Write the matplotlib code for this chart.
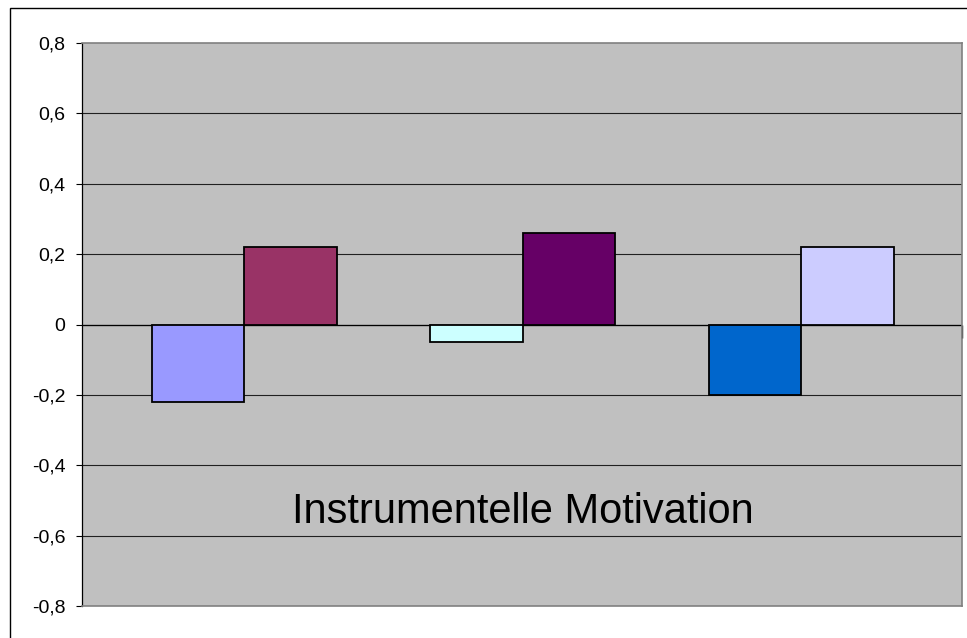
import numpy as np
import matplotlib.pyplot as plt
from matplotlib.patches import Rectangle

# ==========================
# Data
# ==========================
groups = ["A", "B", "C"]
series_neg = [-0.22, -0.05, -0.20]
series_pos = [0.22, 0.26, 0.22]
colors_neg = ["#9999FF", "#CCFFFF", "#0066CC"]
colors_pos = ["#993366", "#660066", "#CCCCFF"]
yticks = [-0.8, -0.6, -0.4, -0.2, 0, 0.2, 0.4, 0.6, 0.8]
ytick_labels = ["-0,8", "-0,6", "-0,4", "-0,2", "0", "0,2", "0,4", "0,6", "0,8"]
label = "Instrumentelle Motivation"

plt.rcParams["font.family"] = ["Liberation Sans", "DejaVu Sans"]

# ==========================
# Figure
# ==========================
fig = plt.figure(figsize=(9.67, 6.38), dpi=100)
fig.patch.set_facecolor("white")

# outer chart frame
fig.add_artist(Rectangle((10 / 967, -0.1), 1.2, 1 - 8.5 / 638 + 0.1,
                         transform=fig.transFigure, fill=False,
                         edgecolor="black", linewidth=1.0))

ax = fig.add_axes([82 / 967, 1 - 606 / 638, 880 / 967, 563 / 638])
ax.set_facecolor("#C0C0C0")

x = np.arange(len(groups))
w = 0.332
ax.bar(x - w / 2, series_neg, width=w, color=colors_neg,
       edgecolor="black", linewidth=1.3, zorder=3)
ax.bar(x + w / 2, series_pos, width=w, color=colors_pos,
       edgecolor="black", linewidth=1.3, zorder=3)

xmin, xmax = -0.583, 2.578
ax.set_xlim(xmin, xmax)
ax.set_ylim(-0.8, 0.8)

# gridlines
for yv in yticks[1:-1]:
    ax.axhline(yv, color="#202020", linewidth=0.8, zorder=1)
ax.axhline(0, color="black", linewidth=0.9, zorder=2)
ax.vlines(xmax, -0.037, 0, color="black", linewidth=1.0,
          clip_on=False, zorder=2)

ax.set_yticks(yticks)
ax.set_yticklabels(ytick_labels, fontsize=14)
ax.tick_params(axis="y", direction="out", length=4.3, width=0.8,
               pad=7.5, color="black")
ax.set_xticks([])

for side in ["top", "right", "bottom"]:
    ax.spines[side].set_color("#808080")
    ax.spines[side].set_linewidth(1.2)
ax.spines["left"].set_color("black")
ax.spines["left"].set_linewidth(0.9)

ax.text(1.0, -0.565, label, fontsize=30, ha="center", va="baseline",
        color="black", zorder=4)

fig.savefig("out.png", dpi=100)
